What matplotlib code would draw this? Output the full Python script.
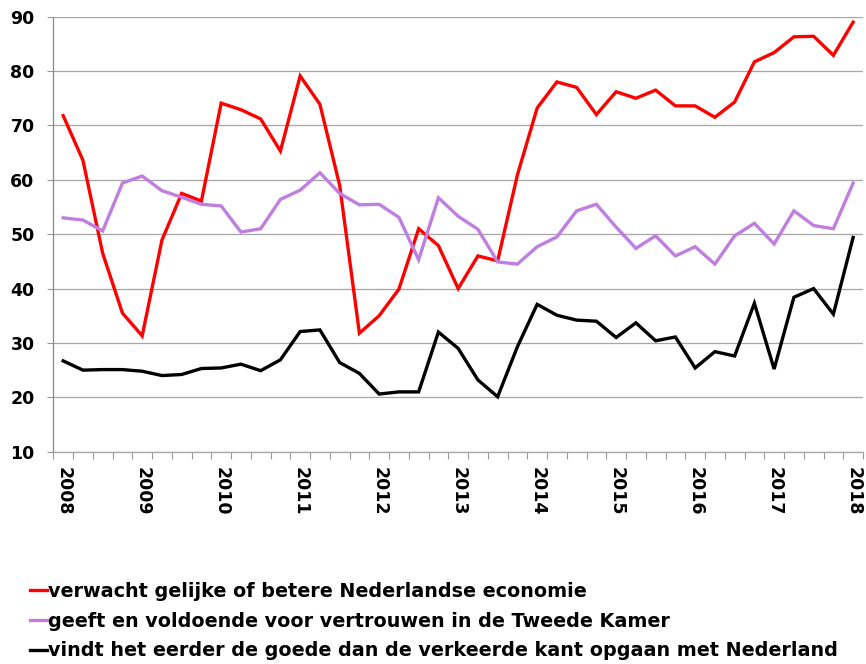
import matplotlib
matplotlib.use("Agg")
import matplotlib.pyplot as plt
import numpy as np
from matplotlib.lines import Line2D

# quarterly values, 2008 Q1 .. 2018 Q1
years = [str(y) for y in range(2008, 2019)]

economie = [71.8, 63.6, 46.5, 35.5, 31.3, 48.9, 57.5, 56.1, 74.1, 72.9, 71.2, 65.3,
            79.1, 73.9, 59.0, 31.8, 35.0, 39.9, 51.0, 47.9, 40.0, 46.0, 45.1, 60.9,
            73.2, 78.0, 77.0, 72.0, 76.2, 75.0, 76.5, 73.6, 73.6, 71.5, 74.3, 81.7,
            83.4, 86.3, 86.4, 82.9, 89.0]

tweede_kamer = [53.0, 52.6, 50.6, 59.4, 60.7, 58.0, 56.8, 55.5, 55.2, 50.4, 51.0, 56.4,
                58.1, 61.3, 57.5, 55.4, 55.5, 53.1, 45.3, 56.7, 53.3, 50.9, 44.9, 44.5,
                47.7, 49.5, 54.3, 55.5, 51.3, 47.4, 49.7, 46.0, 47.7, 44.5, 49.7, 52.0,
                48.2, 54.3, 51.6, 51.0, 59.4]

goede_kant = [26.7, 25.0, 25.1, 25.1, 24.8, 24.0, 24.2, 25.3, 25.4, 26.1, 24.9, 26.9,
              32.1, 32.4, 26.4, 24.4, 20.6, 21.0, 21.0, 32.0, 29.0, 23.2, 20.1, 29.3,
              37.1, 35.1, 34.2, 34.0, 31.0, 33.7, 30.4, 31.1, 25.4, 28.4, 27.6, 37.3,
              25.2, 38.4, 40.0, 35.3, 49.4]

labels = ["verwacht gelijke of betere Nederlandse economie",
          "geeft en voldoende voor vertrouwen in de Tweede Kamer",
          "vindt het eerder de goede dan de verkeerde kant opgaan met Nederland"]
colors = ["#ff0000", "#c07ee0", "#000000"]

plt.rcParams['font.family'] = ['DejaVu Sans']

fig = plt.figure(figsize=(8.66, 6.64), dpi=100)
ax = fig.add_axes([53.3 / 866, 1 - 451.7 / 664, (863 - 53.3) / 866, (451.7 - 16.7) / 664])

x = np.arange(len(economie))
for series, c in zip([economie, tweede_kamer, goede_kant], colors):
    ax.plot(x, series, color=c, lw=2.4, solid_joinstyle='miter', zorder=3)

ax.set_xlim(-0.5, len(economie) - 0.5)
ax.set_ylim(10, 90)
ax.set_yticks(np.arange(10, 91, 10))
ax.yaxis.grid(True, color='#a6a6a6', lw=0.9)
ax.set_axisbelow(True)

ax.set_xticks(np.arange(0, len(economie), 4))
ax.set_xticklabels(years, rotation=270, fontsize=12.5, fontweight='bold')
ax.set_xticks(np.arange(-0.5, len(economie), 1), minor=True)
ax.tick_params(axis='x', which='major', length=0, pad=11)
ax.tick_params(axis='x', which='minor', length=5, color='#999999', width=0.8)
ax.tick_params(axis='y', length=4.5, color='#999999', width=0.8, pad=9, labelsize=12.5)
for lab in ax.get_yticklabels():
    lab.set_fontweight('bold')

for s in ['top', 'right']:
    ax.spines[s].set_visible(False)
ax.spines['left'].set_color('#888888')
ax.spines['bottom'].set_color('#a6a6a6')
ax.spines['left'].set_linewidth(0.9)
ax.spines['bottom'].set_linewidth(0.9)

handles = [Line2D([0], [0], color=c, lw=2.4) for c in colors]
fig.legend(handles, labels, loc='upper left', bbox_to_anchor=(30 / 866, 1 - 582 / 664),
           frameon=False, handlelength=0.9, handletextpad=0.05, labelspacing=0.56,
           prop={'weight': 'bold', 'size': 13.8}, borderaxespad=0, borderpad=0)

fig.savefig("out.png", dpi=100)
